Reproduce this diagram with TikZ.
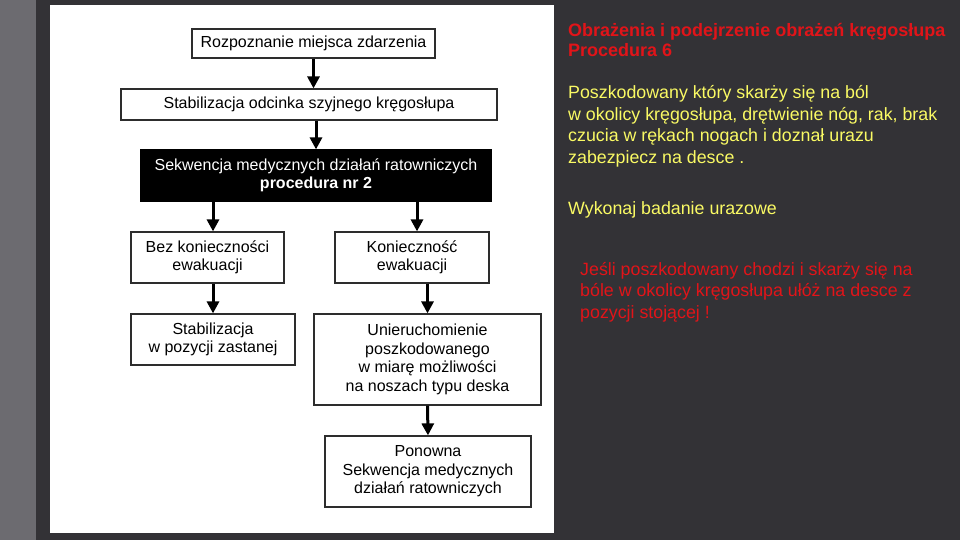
\documentclass[tikz,border=0pt]{standalone}
\usepackage{fontspec}
\setmainfont{Liberation Sans}
\usetikzlibrary{arrows.meta, positioning, calc}
\definecolor{slidebg}{RGB}{51, 50, 54}
\definecolor{slidestrip}{RGB}{108, 107, 112}
\definecolor{slidered}{RGB}{225, 20, 25}
\definecolor{slideyellow}{RGB}{250, 250, 100}
\definecolor{boxline}{RGB}{45, 45, 45}
\tikzset{
  flowbox/.style={rectangle, draw=boxline, line width=1.2pt, fill=white, inner sep=0pt,
                  minimum width=#1, align=center, font=\fontsize{16}{18.5}\selectfont},
  flowbox/.default=150pt,
  blackbox/.style={flowbox=#1, fill=black, draw=black, text=white},
  blackbox/.default=350pt,
  flowarrow/.style={-{Triangle[length=12pt, width=12pt]}, line width=3pt, color=black},
  slidetext/.style={anchor=north west, inner sep=0pt, align=left,
                    font=\fontsize{17.8}{21.5}\selectfont},
}

\begin{document}
\begin{tikzpicture}[x=1pt, y=-1pt]
        \fill[slidebg] (0,0) rectangle (960,540);
        \fill[slidestrip] (0,0) rectangle (36,540);
        \fill[white] (50,5) rectangle (554,533);

        \node[flowbox=243pt, minimum height=29pt] (rozp) at (313.5,43.5) {Rozpoznanie miejsca zdarzenia};
        \node[flowbox=376pt, minimum height=31pt] (stabszyj) at (309,104.5) {Stabilizacja odcinka szyjnego kręgosłupa};
        \node[blackbox=350pt, minimum height=51pt] (sekw) at (316,175.5)
             {Sekwencja medycznych działań ratowniczych\\ \textbf{procedura nr 2}};
        \node[flowbox=153pt, minimum height=51pt] (bezewak) at (207.5,257.5) {Bez konieczności\\ ewakuacji};
        \node[flowbox=154pt, minimum height=51pt] (ewak) at (412,257.5) {Konieczność\\ ewakuacji};
        \node[flowbox=164pt, minimum height=51pt] (stabzast) at (213,339.5) {Stabilizacja\\ w pozycji zastanej};
        \node[flowbox=227pt, minimum height=91pt] (unier) at (427.5,359.5)
             {Unieruchomienie\\ poszkodowanego\\ w miarę możliwości\\ na noszach typu deska};
        \node[flowbox=206pt, minimum height=71pt] (ponow) at (428,471.5)
             {Ponowna\\ Sekwencja medycznych\\ działań ratowniczych};

        \draw[flowarrow] (rozp.south) -- (rozp.south |- stabszyj.north);
        \draw[flowarrow] (sekw.north |- stabszyj.south) -- (sekw.north);
        \draw[flowarrow] (sekw.south -| stabzast.north) -- (bezewak.north -| stabzast.north);
        \draw[flowarrow] ([xshift=5pt]ewak.north |- sekw.south) -- ([xshift=5pt]ewak.north);
        \draw[flowarrow] (bezewak.south -| stabzast.north) -- (stabzast.north);
        \draw[flowarrow] (ewak.south -| unier.north) -- (unier.north);
        \draw[flowarrow] (unier.south) -- (ponow.north);

        \node[slidetext, text=slidered, font=\fontsize{18}{20}\selectfont\bfseries] (tytul) at (568,23)
             {Obrażenia i podejrzenie obrażeń kręgosłupa\\ Procedura 6};
        \node[slidetext, text=slideyellow] (opis) at (568,85.3)
             {Poszkodowany który skarży się na ból\\ w okolicy kręgosłupa, drętwienie nóg, rak, brak\\
              czucia w rękach nogach i doznał urazu\\ zabezpiecz na desce .};
        \node[slidetext, text=slideyellow] (badanie) at (568,201) {Wykonaj badanie urazowe};
        \node[slidetext, text=slidered] (uwaga) at (580,262)
             {Jeśli poszkodowany chodzi i skarży się na\\ bóle w okolicy kręgosłupa ułóż na desce z\\ pozycji stojącej !};
      \end{tikzpicture}
\end{document}
